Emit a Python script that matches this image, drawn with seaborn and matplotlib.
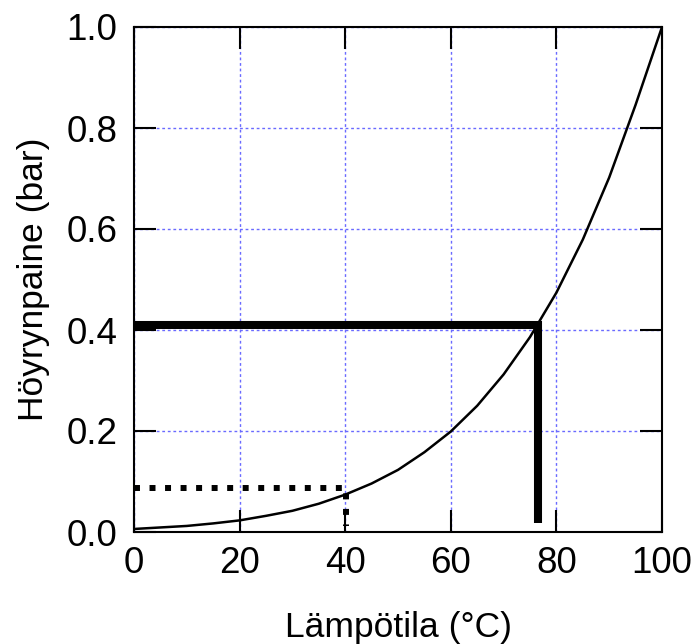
import matplotlib
matplotlib.use("Agg")
import matplotlib.pyplot as plt
import pandas as pd
import seaborn as sns

# vapour pressure of water
temperature = [0, 5, 10, 15, 20, 25, 30, 35, 40, 45, 50,
               55, 60, 65, 70, 75, 80, 85, 90, 95, 100]
pressure = [0.006, 0.009, 0.012, 0.017, 0.023, 0.032, 0.042, 0.056, 0.074, 0.096, 0.123,
            0.158, 0.199, 0.250, 0.312, 0.386, 0.474, 0.579, 0.702, 0.846, 1.0]

# reading guides
solid_guide_x = [0, 76.5, 76.5]
solid_guide_y = [0.41, 0.41, 0.017]
dotted_guide_x = [0, 40.2, 40.2]
dotted_guide_y = [0.087, 0.087, 0.012]

x_ticks = [0, 20, 40, 60, 80, 100]
y_ticks = [0.0, 0.2, 0.4, 0.6, 0.8, 1.0]

sns.set_style("white")
plt.rcParams['font.family'] = ['Liberation Sans', 'DejaVu Sans']

df = pd.DataFrame({"T": temperature, "p": pressure})

fig = plt.figure(figsize=(6.99, 6.44), dpi=100)
ax = fig.add_axes([134 / 699, 1 - 532 / 644, 528 / 699, 505 / 644])

ax.grid(True, color='#6a6aff', linestyle=(0, (2, 2)), linewidth=1.0)
ax.set_axisbelow(True)

sns.lineplot(data=df, x="T", y="p", color='black', linewidth=1.8, ax=ax)
ax.plot(solid_guide_x, solid_guide_y, color='black', linewidth=5.8,
        solid_joinstyle='miter', solid_capstyle='butt')
ax.plot(dotted_guide_x, dotted_guide_y, color='black', linewidth=4.3,
        linestyle=(0, (1, 1.6)))

ax.set_xlim(0, 100)
ax.set_ylim(0, 1.0)
ax.set_xticks(x_ticks)
ax.set_yticks(y_ticks)
ax.set_xticklabels([str(t) for t in x_ticks])
ax.set_yticklabels([f"{t:.1f}" for t in y_ticks])
ax.tick_params(direction='in', length=16, width=1.5, labelsize=26.5,
               left=True, bottom=True, top=True, right=True,
               labelcolor='black', color='black')
ax.tick_params(axis='y', pad=12)
ax.tick_params(axis='x', pad=10)
for s in ax.spines.values():
    s.set_linewidth(1.5)
    s.set_color('black')

ax.set_xlabel("Lämpötila (°C)", fontsize=25.5, labelpad=22, color='black')
ax.set_ylabel("Höyrynpaine (bar)", fontsize=25.5, labelpad=12, color='black')

fig.savefig("out.png", dpi=100)
